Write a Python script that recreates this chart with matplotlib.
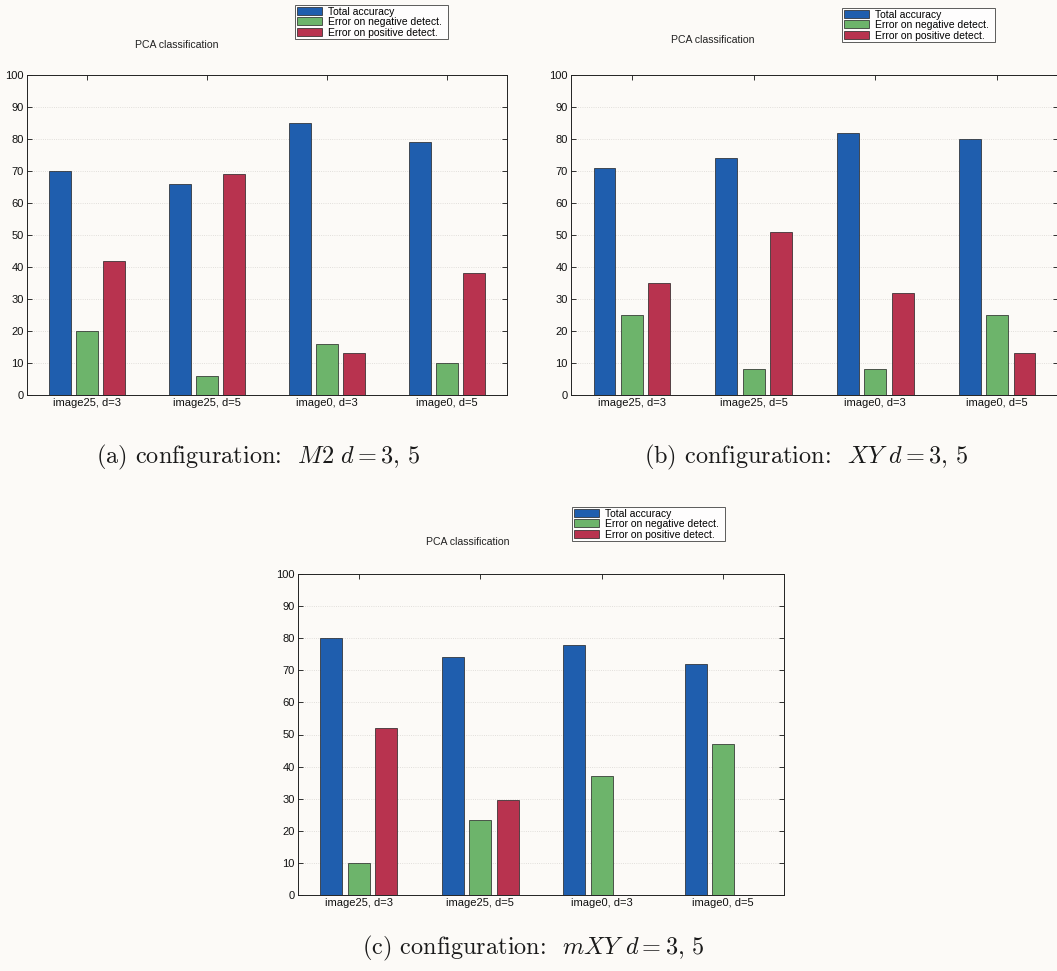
import matplotlib
matplotlib.use("Agg")
import matplotlib.pyplot as plt
import numpy as np

# ---- data -------------------------------------------------------------
groups = ["image25, d=3", "image25, d=5", "image0, d=3", "image0, d=5"]
series_names = ["Total accuracy", "Error on negative detect.", "Error on positive detect."]
series_colors = ["#1f5eae", "#6db46b", "#b8334f"]

accuracy_m2 = [70, 66, 85, 79]
neg_error_m2 = [20, 6, 16, 10]
pos_error_m2 = [42, 69, 13, 38]

accuracy_xy = [71, 74, 82, 80]
neg_error_xy = [25, 8, 8, 25]
pos_error_xy = [35, 51, 32, 13]

accuracy_mxy = [80, 74, 78, 72]
neg_error_mxy = [10, 23.5, 37, 47]
pos_error_mxy = [52, 29.5, 0, 0]

y_ticks = list(range(0, 101, 10))
panel_title = "PCA classification"
captions = [
    r"(a) configuration:  $M2\ d=3,\,5$",
    r"(b) configuration:  $XY\ d=3,\,5$",
    r"(c) configuration:  $mXY\ d=3,\,5$",
]

# ---- figure -----------------------------------------------------------
W, H = 1057, 971
BG = "#fcfaf7"
plt.rcParams["mathtext.fontset"] = "cm"
plt.rcParams["font.family"] = ["Liberation Sans", "DejaVu Sans"]

fig = plt.figure(figsize=(W / 100, H / 100), dpi=100, facecolor=BG)


def px_axes(left, top, right, bottom):
    return fig.add_axes([left / W, 1 - bottom / H, (right - left) / W, (bottom - top) / H])


def draw_panel(ax, values, title_xy, legend_box, caption, caption_xy):
    x = np.arange(1, len(groups) + 1)
    width = 0.18
    step = 0.225
    handles = []
    for i, (vals, col) in enumerate(zip(values, series_colors)):
        h = ax.bar(x + (i - 1) * step, vals, width, color=col,
                   edgecolor="#202020", linewidth=0.5, zorder=3)
        handles.append(h)
    ax.set_xlim(0.5, len(groups) + 0.5)
    ax.set_ylim(0, 100)
    ax.set_yticks(y_ticks)
    ax.set_xticks(x)
    ax.set_xticklabels(groups)
    ax.set_facecolor(BG)
    ax.tick_params(direction="in", length=3.5, width=0.6, labelsize=8,
                   top=True, right=True, pad=2.5, colors="#111111")
    for s in ax.spines.values():
        s.set_linewidth(0.7)
        s.set_color("#222222")
    ax.yaxis.grid(True, linestyle=":", color="#d9d6d2", linewidth=0.6, zorder=0)
    ax.set_axisbelow(True)

    fig.text(title_xy[0] / W, 1 - title_xy[1] / H, panel_title,
             ha="center", va="center", fontsize=7.6, color="#222222")

    lx0, ly0, lx1, ly1 = legend_box
    leg = fig.legend(handles, series_names, loc="upper left",
                     bbox_to_anchor=(lx0 / W, 1 - ly1 / H, (lx1 - lx0) / W, (ly1 - ly0) / H),
                     mode="expand", fontsize=7.5, frameon=True, fancybox=False,
                     handlelength=2.4, handleheight=0.8, handletextpad=0.6,
                     labelspacing=0.05, borderpad=0.15, borderaxespad=0.0)
    leg.get_frame().set_edgecolor("#333333")
    leg.get_frame().set_linewidth(0.7)
    leg.get_frame().set_facecolor("white")

    fig.text(caption_xy[0] / W, 1 - caption_xy[1] / H, caption,
             ha="center", va="center", fontsize=17.5, color="#1a1a1a",
             family="cmr10")


ax_a = px_axes(27, 75, 507, 395)
draw_panel(ax_a, [accuracy_m2, neg_error_m2, pos_error_m2],
           (177, 45), (295, 5, 448, 46), captions[0], (258, 457))

ax_b = px_axes(571, 75, 1058, 395)
draw_panel(ax_b, [accuracy_xy, neg_error_xy, pos_error_xy],
           (713, 40), (842, 8, 995, 48), captions[1], (806, 457))

ax_c = px_axes(298, 574, 784, 895)
draw_panel(ax_c, [accuracy_mxy, neg_error_mxy, pos_error_mxy],
           (468, 542), (572, 507, 725, 545), captions[2], (533, 948))

fig.savefig("out.png", dpi=100, facecolor=BG)
